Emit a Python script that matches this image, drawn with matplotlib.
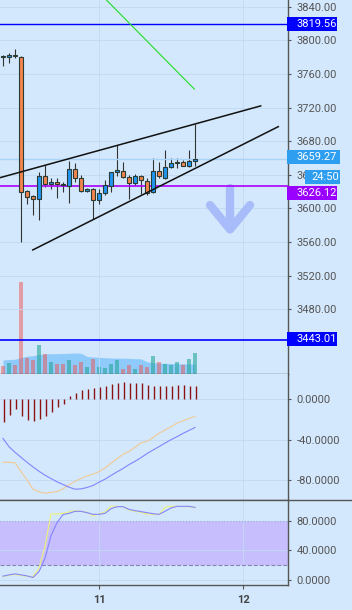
import numpy as np
import matplotlib.pyplot as plt
from matplotlib.patches import Rectangle
from matplotlib.lines import Line2D

plt.rcParams['font.family'] = ['Roboto', 'DejaVu Sans']
plt.rcParams['axes.unicode_minus'] = False

# hourly candles, day 10 08:00 .. day 11 16:00
hours = np.arange(8, 41)
t = 10 + hours / 24

opens = [3781, 3780, 3783, 3780, 3621, 3615, 3611, 3639, 3629, 3631, 3628, 3627, 3647, 3636, 3621, 3623, 3610,
         3618, 3627, 3643, 3645, 3637, 3630, 3639, 3633, 3619, 3644, 3636, 3649, 3654, 3655, 3651, 3656]
closes = [3781, 3783, 3781, 3620, 3614, 3611, 3639, 3629, 3631, 3629, 3628, 3647, 3636, 3621, 3623, 3610, 3618,
          3628, 3643, 3646, 3637, 3630, 3639, 3634, 3618, 3644, 3638, 3649, 3654, 3655, 3651, 3656, 3659.27]
highs = [3782, 3785, 3790, 3781, 3622, 3616, 3643, 3652, 3636, 3636, 3632, 3656, 3654, 3640, 3624, 3624, 3623,
         3634, 3643, 3675, 3655, 3640, 3641, 3640, 3636, 3660, 3655, 3669, 3660, 3660, 3658, 3669, 3700]
lows = [3769, 3773, 3779, 3560, 3605, 3592, 3586, 3626, 3623, 3613, 3619, 3606, 3632, 3620, 3620, 3588, 3605,
        3616, 3620, 3638, 3636, 3611, 3628, 3617, 3616, 3618, 3636, 3635, 3648, 3648, 3650, 3649, 3651]

volumes = [320, 440, 360, 3680, 640, 560, 1160, 800, 480, 400, 400, 560, 360, 480, 280, 600, 280,
           240, 400, 560, 200, 360, 200, 360, 280, 720, 480, 400, 360, 480, 360, 600, 840]
volume_ma = [560, 580, 588, 660, 712, 732, 780, 800, 812, 812, 820, 828, 840, 828, 700, 680, 668,
             648, 640, 632, 632, 624, 612, 608, 488, 460, 432, 428, 420, 412, 408, 400, 400]

macd_hist = [-22.4, -16, -10, -16.5, -21, -22, -20, -16.5, -13, -8, -4.6, 3, 6.6, 9, 10.6, 11.3, 12.3,
             13.3, 15.3, 16.3, 17, 16.3, 16, 15.6, 14, 13.3, 13.3, 13.3, 13.3, 14, 13.7, 13.3, 12.7]
macd_line = [-62.6, -62.6, -63.2, -71.8, -80, -89.3, -91.9, -93.2, -92.5, -91.6, -89, -85, -81.7, -78.7,
             -76.1, -74.4, -71.8, -68.2, -63.6, -59, -54.7, -51.7, -47.8, -43.1, -41.8, -37.9, -33.9,
             -30.6, -27.3, -23.7, -21.4, -19.1, -17.1]
macd_signal = [-38.9, -47.1, -52.7, -57.6, -62.6, -67.2, -71.5, -75.4, -78.7, -82, -84.6, -87.3, -89.3,
               -89, -87.6, -85.6, -82.3, -79.4, -75.7, -72.1, -68.8, -64.9, -61.6, -58, -54, -50.4, -47.1,
               -43.5, -40.2, -37.2, -33.9, -31, -28]

stoch_k = [4.5, 6.3, 7.2, 5.9, 5, 4.5, 15.8, 45.2, 89.5, 89.5, 90.4, 92.2, 94, 93.1, 91.8, 86.8, 89.5,
           92.2, 100, 100, 99.4, 94.9, 93.1, 91.8, 89.5, 89, 89, 98.5, 100, 100, 99.4, 99.4, 98.5]
stoch_d = [5, 6.8, 8.1, 6.8, 5.4, 3.2, 11.3, 29.4, 60, 77.7, 88.6, 90.4, 93.1, 93.1, 91.3, 89, 89,
           90.4, 96.7, 99.4, 99.4, 95.8, 94, 92.7, 91.3, 89.9, 89, 93.1, 97.6, 99.9, 99.9, 99.9, 98.5]

# drawings (time in days, price)
wedge_upper = ([10.30, 12.123], [3636, 3722])
wedge_lower = ([10.54, 12.245], [3550.6, 3697.3])
green_line = ([11.0, 11.662], [3857, 3742])
arrow_shaft = ([11.910, 11.910], [3624, 3576])
arrow_head = ([11.771, 11.910, 12.049], [3604, 3575, 3604])

price_ticks = np.arange(3480, 3841, 40)

bg = '#d3e8fd'
grid_c = '#c2daf2'
axis_c = '#555555'
up_c = '#2196f3'
down_c = '#f5844c'

W, H = 352, 610
fig = plt.figure(figsize=(W / 100, H / 100), dpi=100, facecolor=bg)


def panel(top, bottom):
    a = fig.add_axes([0, 1 - bottom / H, 288 / W, (bottom - top) / H])
    a.set_facecolor(bg)
    a.set_xlim(10.3125, 12.3125)
    for s in ['left', 'top']:
        a.spines[s].set_visible(False)
    for s in ['right', 'bottom']:
        a.spines[s].set_color(axis_c)
        a.spines[s].set_linewidth(1)
    a.yaxis.tick_right()
    a.tick_params(axis='y', colors=axis_c, labelcolor='#555555', labelsize=8, length=2.5, pad=3.5)
    a.set_xticks([11, 12])
    a.tick_params(axis='x', length=0, labelbottom=False)
    a.grid(True, color=grid_c, lw=0.6)
    a.set_axisbelow(True)
    return a


ax = panel(0, 374)
ax_macd = panel(374, 500)
ax_st = panel(500, 585)

# volume behind candles
axv = ax.twinx()
ax.yaxis.tick_right()
ax.tick_params(axis='y', left=False, labelleft=False, right=True, labelright=True)
axv.set_zorder(ax.get_zorder() - 1)
ax.patch.set_visible(False)
axv.set_facecolor(bg)
axv.patch.set_visible(True)
axv.set_ylim(0, 14960)
axv.axis('off')
axv.fill_between(t, 0, volume_ma, color='#8ecafa', lw=0)
for i in range(len(t)):
    if closes[i] > opens[i]:
        axv.bar(t[i], volumes[i], width=0.034, color='#26a69a', alpha=0.6, lw=0)
    else:
        axv.bar(t[i], volumes[i], width=0.034, color='#ef5350', alpha=0.5, lw=0)

# candles
for i in range(len(t)):
    o, c = opens[i], closes[i]
    if c > o:
        col = up_c
    elif c < o:
        col = down_c
    else:
        col = '#222222'
    ax.vlines(t[i], lows[i], highs[i], color='#333333', lw=0.8, zorder=2)
    body = max(abs(c - o), 1.2)
    ax.bar(t[i], body, bottom=min(o, c) - (body - abs(c - o)) / 2, width=0.03, color=col,
           edgecolor='#2a3b33', lw=0.8, zorder=3)

ax.axhline(3819.56, color='#0000ff', lw=1)
ax.axhline(3659.27, color='#a9d3f7', lw=1)
ax.axhline(3626.12, color='#aa00ff', lw=1.2)
ax.axhline(3443.01, color='#0000ff', lw=1.2, zorder=4)

ax.plot(*wedge_upper, color='#111111', lw=1.1, zorder=4)
ax.plot(*wedge_lower, color='#111111', lw=1.1, zorder=4)
ax.plot(*green_line, color='#22dd22', lw=0.8, zorder=4)
ax.plot(*arrow_shaft, color='#a9bcfa', lw=6, solid_capstyle='round', zorder=1)
ax.plot(*arrow_head, color='#a9bcfa', lw=6, solid_capstyle='round', solid_joinstyle='round', zorder=1)

ax.set_ylim(3403, 3848)
ax.set_yticks(price_ticks)
ax.set_yticklabels(['%.2f' % p for p in price_ticks])

# MACD
ax_macd.vlines(t + 0.006, 0, macd_hist, color='#8b1212', lw=1.0)
ax_macd.plot(t, macd_line, color='#f2c994', lw=0.8)
ax_macd.plot(t, macd_signal, color='#8484ff', lw=0.8)
ax_macd.set_ylim(-100, 25)
ax_macd.set_yticks([0, -40, -80])
ax_macd.set_yticklabels(['0.0000', '-40.0000', '-80.0000'])

# stochastic
ax_st.axhspan(20, 80, color='#c6befd', lw=0, zorder=0.5)
ax_st.axhline(80, color='#a99de0', lw=0.8, ls=':')
ax_st.axhline(20, color='#8a80b8', lw=0.8, ls='--')
ax_st.plot(t, stoch_k, color='#eef07a', lw=0.8)
ax_st.plot(t, stoch_d, color='#8484ff', lw=0.8)
ax_st.set_ylim(-7, 108.5)
ax_st.set_yticks([0, 40, 80])
ax_st.set_yticklabels(['0.0000', '40.0000', '80.0000'])
ax_st.tick_params(axis='x', length=3, color=axis_c, labelbottom=True, labelsize=8,
                  labelcolor='#444444', pad=4)
ax_st.set_xticklabels(['11', '12'], fontweight='bold')

fig.add_artist(Line2D([0, 1], [1 - 500 / H] * 2, color=axis_c, lw=1, transform=fig.transFigure))


def tag(a, price, label, color, dy=0, x0=287, x1=337, tx=296.5):
    yd = a.transData.transform((11, price))[1]
    yc = fig.transFigure.inverted().transform((0, yd))[1] - dy / H
    h = 14
    fig.add_artist(Rectangle((x0 / W, yc - h / 2 / H), (x1 - x0) / W, h / H, transform=fig.transFigure,
                             facecolor=color, lw=0, zorder=10))
    fig.text(tx / W, yc, label, color='white', fontsize=8, va='center', ha='left', zorder=11)


tag(ax, 3819.56, '3819.56', '#0000ff')
tag(ax, 3659.27, '3659.27', '#2e9ef0', dy=-2, x1=340)
tag(ax, 3659.27, '24:50', '#2e9ef0', dy=18, x0=305, x1=340, tx=311)
tag(ax, 3626.12, '3626.12', '#9900ff', dy=7)
tag(ax, 3443.01, '3443.01', '#0000ff', dy=-1)

fig.savefig('out.png', dpi=100, facecolor=bg)
